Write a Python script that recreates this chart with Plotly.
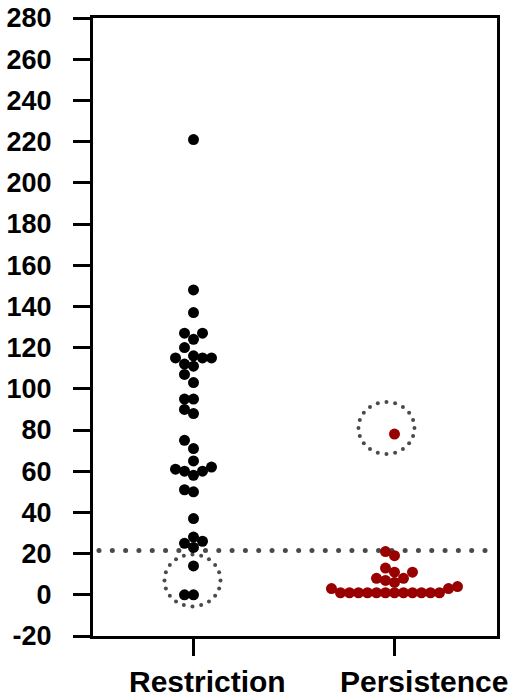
import numpy as np
import plotly.graph_objects as go

# ---------------- data ----------------
categories = ["Restriction", "Persistence"]
restriction = [221, 148, 137, 127, 127, 124, 120, 116, 115, 115, 115, 112, 111, 107,
               103, 95, 95, 90, 88, 75, 71, 65, 62, 61, 60, 60, 58, 51, 50, 37, 28,
               26, 25, 23, 14, 0, 0]
persistence = [78, 21, 19, 13, 11, 11, 8, 8, 7, 6, 4, 3, 3] + [1] * 12
threshold = 21.5
y_ticks = list(range(-20, 281, 20))
y_tick_labels = [str(v) for v in y_ticks]
highlight_centers = [(-0.005, 7), (0.96, 81)]  # dotted circles (x, y)

# ---------------- layout geometry ----------------
W, H = 519, 697
margin = dict(l=93, r=22, t=18, b=61)
x_range = [-0.5, 1.51]
y_range = [-20, 280]
plot_w = W - margin["l"] - margin["r"]
plot_h = H - margin["t"] - margin["b"]
px_x = plot_w / (x_range[1] - x_range[0])
px_y = plot_h / (y_range[1] - y_range[0])


def swarm(values, step_px=9.0, dmin_px=9.0):
    """Simple beeswarm: place points (lowest first) at the nearest free column."""
    order = sorted(range(len(values)), key=lambda i: values[i])
    placed = []
    offs = [0.0] * len(values)
    for i in order:
        y = values[i] * px_y
        chosen = None
        for j in range(0, 80):
            cands = [0.0] if j == 0 else [-j * step_px, j * step_px]
            for c in cands:
                if all((c - px) ** 2 + (y - py) ** 2 >= dmin_px ** 2 - 1e-9 for px, py in placed):
                    chosen = c
                    break
            if chosen is not None:
                break
        placed.append((chosen, y))
        offs[i] = chosen / px_x
    return offs


fig = go.Figure()

# dotted threshold line (drawn as dots)
line_x = np.linspace(x_range[0] + 6 / px_x, x_range[1] - 12 / px_x, 30)
fig.add_trace(go.Scatter(x=line_x, y=[threshold] * len(line_x), mode="markers",
                         marker=dict(size=5, color="#4a4a4a"), hoverinfo="skip"))

# dotted highlight circles
t = np.linspace(0, 2 * np.pi, 20, endpoint=False)
for cx, cy in highlight_centers:
    fig.add_trace(go.Scatter(x=cx + (28 / px_x) * np.cos(t), y=cy + (26 / px_y) * np.sin(t),
                             mode="markers", marker=dict(size=4, color="#4a4a4a"),
                             hoverinfo="skip"))

colors = ["#000000", "#990000"]
for k, vals in enumerate([restriction, persistence]):
    offs = swarm(vals)
    fig.add_trace(go.Scatter(x=[k + o for o in offs], y=vals, mode="markers",
                             marker=dict(size=11, color=colors[k], line=dict(width=0)),
                             name=categories[k]))

font_family = "Liberation Sans, Arial, Helvetica, sans-serif"
for k, name in enumerate(categories):
    fig.add_annotation(x=k, xref="x", y=-0.073, yref="paper", text=name,
                       showarrow=False, xanchor="center", yanchor="middle",
                       xshift=[14, 30][k],
                       font=dict(family=font_family, size=30, color="black", weight="bold"))

fig.update_layout(
    width=W, height=H, margin=margin, showlegend=False,
    plot_bgcolor="white", paper_bgcolor="white",
    xaxis=dict(range=x_range, tickvals=[0, 1], showticklabels=False, ticks="outside",
               ticklen=17, tickwidth=3, tickcolor="black", showline=True, linewidth=3,
               linecolor="black", mirror=True, showgrid=False, zeroline=False,
               automargin=False),
    yaxis=dict(range=y_range, tickvals=y_ticks, ticktext=y_tick_labels, ticks="outside",
               ticklen=17, tickwidth=3, tickcolor="black", showline=True, linewidth=3,
               linecolor="black", mirror=True, showgrid=False, zeroline=False,
               ticklabelstandoff=16, automargin=False,
               tickfont=dict(family=font_family, size=27, color="black", weight="bold")),
)

fig.write_html("out.html", config={"displayModeBar": False},
               post_script="document.body.style.margin='0';document.body.style.overflow='hidden';")
